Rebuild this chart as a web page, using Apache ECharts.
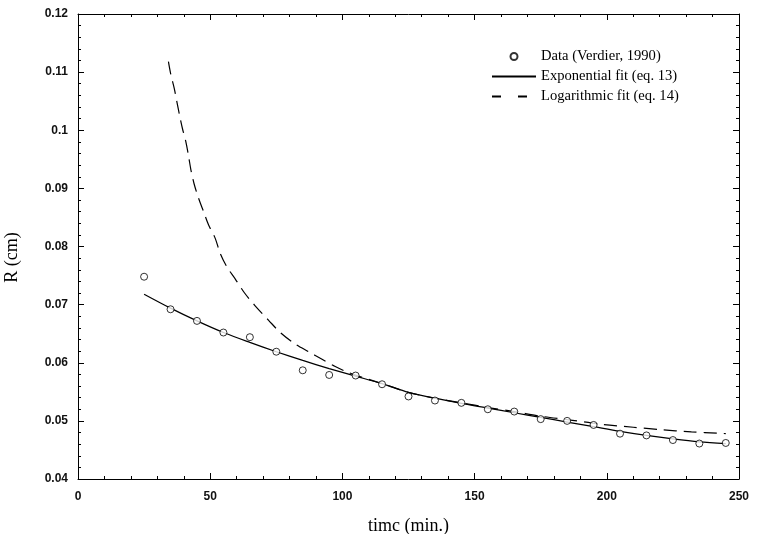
<!DOCTYPE html>
<html>
<head>
<meta charset="utf-8">
<script src="https://cdn.jsdelivr.net/npm/echarts@6/dist/echarts.min.js"></script>
<style>
html,body{margin:0;padding:0;background:#fff;}
#chart{width:758px;height:534px;}
</style>
</head>
<body>
<div id="chart"></div>
<script>
// Data
var dataTime = [25, 35, 45, 55, 65, 75, 85, 95, 105, 115, 125, 135, 145, 155, 165, 175, 185, 195, 205, 215, 225, 235, 245];
var dataR = [0.0748, 0.0692, 0.0672, 0.0652, 0.0644, 0.0619, 0.0587, 0.0579, 0.0578, 0.0563, 0.0542, 0.0535, 0.0531, 0.0520, 0.0516, 0.0503, 0.0500, 0.0493, 0.0478, 0.0475, 0.0467, 0.0461, 0.0462];

var expTime = [25, 35, 45, 55, 65, 75, 85, 95, 105, 115, 125, 135, 145, 155, 165, 175, 185, 195, 205, 215, 225, 235, 245];
var expR = [0.0718, 0.0694, 0.0672, 0.0652, 0.0635, 0.0619, 0.0604, 0.0590, 0.0577, 0.0564, 0.0549, 0.0539, 0.0530, 0.0522, 0.0514, 0.0506, 0.0498, 0.0490, 0.0482, 0.0475, 0.0469, 0.0464, 0.0461];

var logTime = [34.2, 35.1, 36.4, 37.4, 38.4, 39.5, 40.8, 41.8, 42.7, 43.9, 45.6, 47.5, 49.4, 51.9, 53.8, 56.3, 59.5, 63.0, 67.0, 72.1, 76.5, 82.2, 87.2, 92.3, 96.7, 102.4, 115, 125, 135, 145, 155, 165, 175, 187, 198, 210, 220, 232, 242, 245];
var logR = [0.1118, 0.1096, 0.1072, 0.1049, 0.1026, 0.1003, 0.0980, 0.0956, 0.0932, 0.0908, 0.0883, 0.0860, 0.0837, 0.0814, 0.0788, 0.0765, 0.0744, 0.0720, 0.0698, 0.0673, 0.0652, 0.0632, 0.0619, 0.0606, 0.0595, 0.0583, 0.0564, 0.0549, 0.0539, 0.0531, 0.0523, 0.0516, 0.0508, 0.0501, 0.0494, 0.0489, 0.0485, 0.0481, 0.0479, 0.0478];

var seriesNames = ['Data (Verdier, 1990)', 'Exponential fit (eq. 13)', 'Logarithmic fit (eq. 14)'];
var xTicks = {min: 0, max: 250, interval: 50};
var yTicks = {min: 0.04, max: 0.12, interval: 0.01};

function pairs(xs, ys) { return xs.map(function (x, i) { return [x, ys[i]]; }); }

var serif = 'Liberation Serif';
var sans = 'Liberation Sans';
var labelStyle = {color: '#111', fontFamily: sans, fontSize: 12, fontWeight: 'bold'};

function makeAxis(kind, position, ticks, withLabels, extra) {
  var ax = {
    type: 'value',
    position: position,
    min: ticks.min, max: ticks.max, interval: ticks.interval,
    axisLine: {show: true, onZero: false, lineStyle: {color: '#000', width: 1}},
    axisTick: {show: true, inside: true, length: 6, lineStyle: {color: '#000', width: 1}},
    minorTick: {show: true, splitNumber: 5, length: 3, lineStyle: {color: '#000', width: 1}},
    splitLine: {show: false},
    axisLabel: withLabels ? Object.assign({show: true}, labelStyle, {margin: kind === 'x' ? 12 : 10}) : {show: false}
  };
  return Object.assign(ax, extra || {});
}

var chart = echarts.init(document.getElementById('chart'), null, {renderer: 'canvas'});
var option = {
  backgroundColor: '#fff',
  animation: false,
  grid: {left: 78, right: 19, top: 14, bottom: 55, containLabel: false, outerBoundsMode: 'none'},
  legend: {
    orient: 'vertical',
    left: 486,
    top: 44,
    itemWidth: 44,
    itemHeight: 7,
    itemGap: 5,
    textStyle: {fontFamily: serif, fontSize: 14.6, color: '#000'},
    data: [
      {name: seriesNames[0]},
      {name: seriesNames[1], itemStyle: {color: 'rgba(0,0,0,0)', borderWidth: 0}},
      {name: seriesNames[2], itemStyle: {color: 'rgba(0,0,0,0)', borderWidth: 0}, lineStyle: {type: [9, 17]}}
    ]
  },
  xAxis: [
    makeAxis('x', 'bottom', xTicks, true, {
      name: 'timc (min.)', nameLocation: 'middle', nameGap: 38,
      nameTextStyle: {fontFamily: serif, fontSize: 18, color: '#000'}
    }),
    makeAxis('x', 'top', xTicks, false)
  ],
  yAxis: [
    makeAxis('y', 'left', yTicks, true, {
      name: 'R (cm)', nameLocation: 'middle', nameGap: 57,
      nameTextStyle: {fontFamily: serif, fontSize: 18, color: '#000', padding: [0, 22, 0, 0]}
    }),
    makeAxis('y', 'right', yTicks, false)
  ],
  series: [
    {
      name: seriesNames[0], type: 'scatter', xAxisIndex: 0, yAxisIndex: 0,
      symbol: 'circle', symbolSize: 7,
      itemStyle: {color: '#fff', borderColor: '#000', borderWidth: 1},
      data: pairs(dataTime, dataR), z: 5
    },
    {
      name: seriesNames[1], type: 'line', xAxisIndex: 0, yAxisIndex: 0,
      symbol: 'none', smooth: 0.3,
      lineStyle: {color: '#000', width: 1.2, type: 'solid'},
      itemStyle: {color: '#000'},
      data: pairs(expTime, expR)
    },
    {
      name: seriesNames[2], type: 'line', xAxisIndex: 0, yAxisIndex: 0,
      symbol: 'none', smooth: 0.3,
      lineStyle: {color: '#000', width: 1.2, type: [13, 7]},
      itemStyle: {color: '#000'},
      data: pairs(logTime, logR)
    }
  ]
};
chart.setOption(option);
</script>
</body>
</html>
